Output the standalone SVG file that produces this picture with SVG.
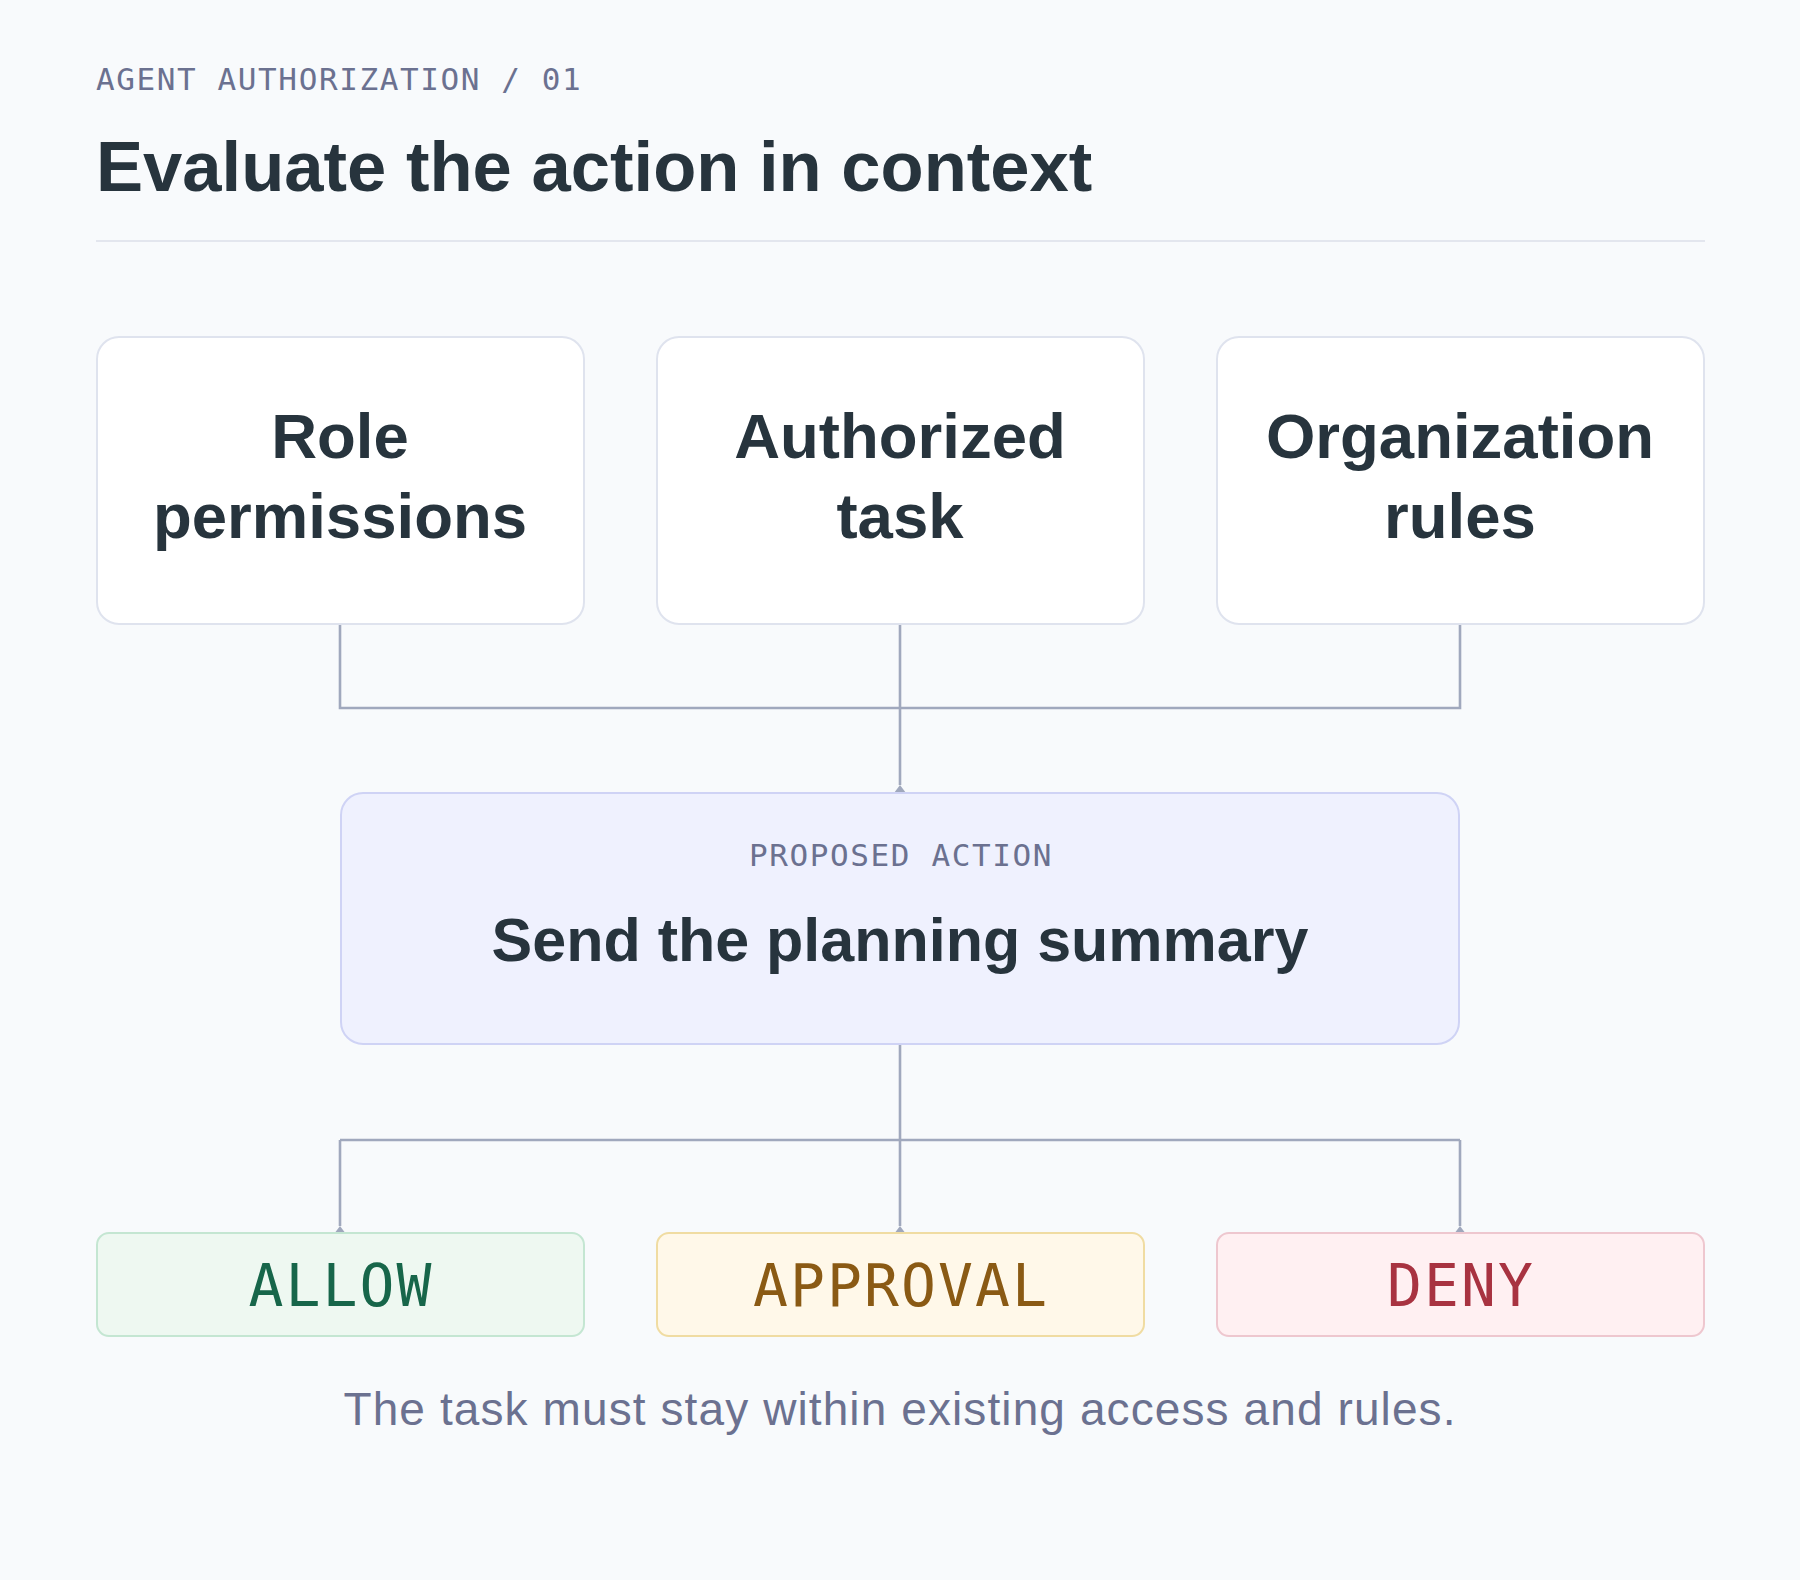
<svg xmlns="http://www.w3.org/2000/svg" width="1800" height="1580" viewBox="0 0 1800 1580">
<defs>
<style>
.mono{font-family:"DejaVu Sans Mono","Liberation Mono",monospace;}
.sans{font-family:"Liberation Sans",Arial,sans-serif;}
.kicker{font-size:31px;letter-spacing:1.6px;fill:#6b7190;}
.title{font-size:70.6px;font-weight:700;fill:#27343d;}
.card{fill:#ffffff;stroke:#dfe3ee;stroke-width:2;}
.cardtxt{font-size:63.5px;font-weight:700;fill:#27343d;text-anchor:middle;}
.conn{fill:none;stroke:#a0a8bd;stroke-width:2.6;}
.out{font-size:58px;letter-spacing:2.1px;text-anchor:middle;}
</style>
<marker id="foot" viewBox="0 0 12 8" refX="6" refY="0" markerWidth="12" markerHeight="8" markerUnits="userSpaceOnUse" orient="0">
<path d="M6 0 L12 8 L0 8 Z" fill="#a0a8bd"/>
</marker>
</defs>
<rect x="0" y="0" width="1800" height="1580" fill="#f8fafc"/>
<g id="header">
<text class="mono kicker" x="96" y="90">AGENT AUTHORIZATION / 01</text>
<text class="sans title" x="96" y="191">Evaluate the action in context</text>
<line x1="96" y1="241" x2="1705" y2="241" stroke="#e3e6ee" stroke-width="2"/>
</g>
<g id="connectors">
<path class="conn" d="M340 624 V708 H1460 V624"/>
<path class="conn" d="M900 624 V785" marker-end="url(#foot)"/>
<path class="conn" d="M900 1044 V1226" marker-end="url(#foot)"/>
<path class="conn" d="M340 1140 H1460"/>
<path class="conn" d="M340 1140 V1226" marker-end="url(#foot)"/>
<path class="conn" d="M1460 1140 V1226" marker-end="url(#foot)"/>
</g>
<g id="role-permissions">
<rect class="card" x="97" y="337" width="487" height="287" rx="22"/>
<text class="sans cardtxt" x="340" y="458">Role</text>
<text class="sans cardtxt" x="340" y="538">permissions</text>
</g>
<g id="authorized-task">
<rect class="card" x="657" y="337" width="487" height="287" rx="22"/>
<text class="sans cardtxt" x="900" y="458">Authorized</text>
<text class="sans cardtxt" x="900" y="538">task</text>
</g>
<g id="organization-rules">
<rect class="card" x="1217" y="337" width="487" height="287" rx="22"/>
<text class="sans cardtxt" x="1460" y="458">Organization</text>
<text class="sans cardtxt" x="1460" y="538">rules</text>
</g>
<g id="proposed-action">
<rect x="341" y="793" width="1118" height="251" rx="22" fill="#eff1fe" stroke="#cfd3f5" stroke-width="2"/>
<text class="mono kicker" x="901" y="866" text-anchor="middle">PROPOSED ACTION</text>
<text class="sans" x="900" y="961" font-size="61" font-weight="700" fill="#27343d" text-anchor="middle">Send the planning summary</text>
</g>
<g id="allow">
<rect x="97" y="1233" width="487" height="103" rx="12" fill="#eef8f1" stroke="#c4e6d2" stroke-width="2"/>
<text class="mono out" x="341" y="1306" fill="#17664a">ALLOW</text>
</g>
<g id="approval">
<rect x="657" y="1233" width="487" height="103" rx="12" fill="#fff8e9" stroke="#f0dca2" stroke-width="2"/>
<text class="mono out" x="901" y="1306" fill="#8a5a14">APPROVAL</text>
</g>
<g id="deny">
<rect x="1217" y="1233" width="487" height="103" rx="12" fill="#fff0f2" stroke="#eec7cf" stroke-width="2"/>
<text class="mono out" x="1461" y="1306" fill="#a83341">DENY</text>
</g>
<g id="footer">
<text class="sans" x="900" y="1425" font-size="46" letter-spacing="1.1" fill="#6b7190" text-anchor="middle">The task must stay within existing access and rules.</text>
</g>
</svg>
